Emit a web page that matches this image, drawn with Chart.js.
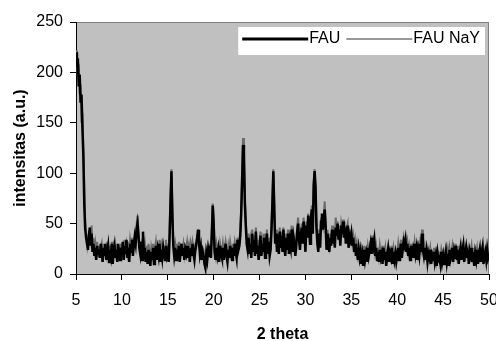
<!DOCTYPE html>
<html>
<head>
<meta charset="utf-8">
<title>FAU XRD</title>
<script src="https://cdn.jsdelivr.net/npm/chart.js@4.4.1/dist/chart.umd.min.js"></script>
<style>
  html, body { margin: 0; padding: 0; background: #ffffff; }
  #wrap { width: 496px; height: 341px; }
</style>
</head>
<body>
<div id="wrap"><canvas id="myChart" width="496" height="341"></canvas></div>
<script>
'use strict';

// <------------------ DATA ------------------>

// 2 theta grid: 5.0 .. 50.0, one reading every 0.1 degree
let thetaStart = 5;
let thetaStep = 0.1;

let seriesNames = ['FAU', 'FAU NaY'];

let fauCounts = [
  220, 205, 214, 186, 198, 170, 178, 145, 118, 70,
  45, 36, 30, 24, 38, 46, 28, 40, 22, 30,
  18, 26, 14, 28, 20, 24, 16, 30, 22, 12,
  26, 18, 30, 14, 22, 28, 12, 24, 18, 30,
  10, 22, 28, 16, 24, 12, 30, 20, 14, 26,
  18, 32, 14, 28, 20, 34, 16, 26, 12, 30,
  22, 34, 18, 28, 36, 30, 44, 50, 38, 26,
  20, 32, 14, 42, 18, 26, 12, 22, 10, 24,
  16, 8, 22, 14, 26, 10, 20, 28, 14, 24,
  18, 30, 12, 24, 16, 26, 20, 14, 28, 18,
  22, 12, 38, 72, 102, 58, 28, 18, 26, 14,
  24, 16, 28, 12, 22, 30, 18, 26, 14, 24,
  20, 28, 16, 24, 12, 26, 18, 30, 20, 14,
  24, 30, 36, 44, 32, 20, 26, 14, 22, 18,
  10, 6, 20, 14, 24, 18, 28, 16, 40, 68,
  50, 22, 14, 26, 18, 24, 12, 28, 20, 16,
  26, 14, 22, 30, 18, 12, 24, 16, 28, 20,
  14, 26, 18, 30, 22, 16, 34, 24, 28, 38,
  60, 92, 128, 118, 70, 48, 30, 24, 36, 20,
  30, 16, 40, 22, 34, 18, 42, 20, 28, 14,
  26, 38, 18, 30, 22, 36, 16, 28, 40, 20,
  32, 18, 24, 44, 70, 102, 66, 30, 40, 22,
  34, 20, 42, 26, 38, 22, 44, 28, 18, 36,
  24, 40, 20, 32, 26, 44, 22, 36, 30, 18,
  28, 42, 50, 34, 24, 38, 46, 30, 52, 40,
  22, 48, 36, 58, 44, 30, 56, 64, 40, 88,
  102, 86, 46, 30, 22, 40, 26, 52, 60, 44,
  56, 64, 48, 24, 40, 30, 22, 36, 28, 44,
  30, 42, 26, 46, 38, 50, 34, 44, 28, 48,
  40, 52, 36, 46, 30, 42, 48, 26, 38, 34,
  40, 28, 36, 22, 30, 18, 26, 14, 24, 16,
  22, 10, 18, 8, 24, 14, 20, 12, 26, 18,
  24, 30, 20, 36, 28, 34, 18, 26, 14, 22,
  12, 24, 16, 20, 10, 26, 14, 22, 8, 18,
  24, 12, 20, 16, 26, 10, 22, 14, 20, 12,
  18, 26, 14, 22, 30, 16, 24, 32, 28, 34,
  22, 30, 18, 26, 14, 28, 20, 24, 16, 30,
  20, 26, 14, 24, 18, 30, 22, 40, 24, 18,
  26, 14, 22, 12, 20, 16, 24, 10, 18, 14,
  22, 12, 18, 8, 20, 14, 16, 10, 22, 12,
  18, 10, 16, 22, 12, 20, 8, 24, 14, 18,
  26, 12, 22, 16, 28, 14, 24, 10, 20, 26,
  14, 22, 28, 12, 20, 26, 16, 24, 10, 22,
  18, 26, 12, 22, 8, 20, 14, 24, 10, 18,
  24, 12, 20, 26, 10, 18, 22, 14, 24, 16,
  20
];

let naYCounts = [
  212, 222, 196, 208, 178, 188, 150, 160, 124, 90,
  52, 40, 34, 28, 32, 40, 34, 48, 26, 36,
  22, 30, 20, 32, 18, 28, 22, 26, 30, 18,
  30, 22, 26, 20, 32, 24, 18, 28, 22, 32,
  16, 28, 24, 20, 30, 18, 26, 24, 20, 30,
  24, 28, 20, 34, 24, 30, 22, 32, 18, 34,
  28, 36, 24, 32, 40, 34, 48, 58, 44, 30,
  26, 30, 22, 36, 24, 30, 18, 28, 16, 30,
  22, 14, 26, 20, 30, 16, 26, 32, 20, 28,
  24, 34, 18, 28, 22, 30, 24, 20, 34, 22,
  26, 20, 44, 80, 104, 66, 34, 24, 30, 20,
  30, 22, 32, 18, 28, 26, 24, 30, 20, 28,
  26, 32, 22, 28, 18, 30, 24, 32, 26, 20,
  28, 26, 32, 38, 30, 24, 30, 20, 26, 24,
  16, 14, 24, 20, 28, 22, 30, 22, 44, 70,
  56, 28, 20, 30, 24, 28, 18, 30, 24, 22,
  30, 20, 26, 32, 24, 18, 28, 22, 32, 26,
  20, 30, 24, 32, 26, 22, 36, 28, 32, 44,
  66, 104, 135, 112, 76, 54, 36, 30, 40, 26,
  34, 24, 44, 28, 38, 26, 46, 26, 34, 22,
  32, 42, 24, 34, 28, 40, 24, 32, 44, 26,
  36, 24, 30, 48, 76, 104, 72, 36, 44, 28,
  38, 26, 46, 30, 42, 28, 46, 32, 24, 40,
  30, 44, 26, 36, 32, 48, 28, 40, 34, 24,
  34, 46, 56, 38, 30, 42, 50, 36, 56, 44,
  28, 52, 40, 60, 48, 36, 58, 68, 46, 90,
  104, 80, 52, 36, 28, 44, 32, 56, 50, 46,
  58, 72, 48, 30, 44, 34, 28, 40, 32, 48,
  36, 46, 32, 56, 42, 52, 38, 48, 34, 50,
  44, 54, 40, 48, 36, 46, 50, 32, 42, 38,
  42, 32, 38, 28, 34, 24, 30, 20, 28, 22,
  26, 16, 22, 14, 28, 20, 24, 18, 28, 22,
  28, 32, 24, 38, 30, 36, 22, 28, 20, 26,
  18, 28, 20, 24, 16, 28, 20, 26, 14, 22,
  28, 18, 24, 20, 28, 16, 26, 20, 24, 18,
  22, 30, 20, 26, 34, 22, 28, 36, 30, 34,
  26, 32, 22, 28, 20, 30, 24, 28, 22, 32,
  24, 28, 20, 28, 24, 32, 26, 44, 28, 22,
  28, 20, 26, 18, 24, 20, 26, 16, 22, 20,
  26, 18, 22, 14, 24, 18, 20, 16, 24, 18,
  22, 16, 20, 26, 18, 24, 14, 26, 20, 22,
  28, 18, 26, 22, 30, 20, 28, 16, 24, 28,
  20, 26, 30, 18, 24, 28, 22, 26, 16, 26,
  22, 28, 18, 26, 14, 24, 20, 26, 16, 22,
  26, 18, 24, 28, 16, 22, 26, 20, 26, 20,
  22
];

let xTickValues = [5, 10, 15, 20, 25, 30, 35, 40, 45, 50];
let yTickValues = [0, 50, 100, 150, 200, 250];


// <------------------ HELPERS ------------------>

const FONT = "'Liberation Sans', Arial, sans-serif";

function toPoints(counts) {
  let pts = [];
  for (let i = 0; i < counts.length; i++) {
    pts.push({ x: Math.round((thetaStart + i * thetaStep) * 10) / 10, y: counts[i] });
  }
  return pts;
}

function fixedTicks(values) {
  return function (scale) {
    scale.ticks = values.map(v => ({ value: v }));
  };
}

// grey plot area with its grey frame on top and right
let plotBackground = {
  id: 'plotBackground',
  beforeDraw(chart) {
    let { ctx, chartArea: a } = chart;
    ctx.save();
    ctx.fillStyle = '#c0c0c0';
    ctx.fillRect(a.left, a.top, a.right - a.left, a.bottom - a.top);
    ctx.strokeStyle = '#808080';
    ctx.lineWidth = 1;
    ctx.beginPath();
    ctx.moveTo(a.left, a.top + 0.5);
    ctx.lineTo(a.right - 0.5, a.top + 0.5);
    ctx.lineTo(a.right - 0.5, a.bottom);
    ctx.stroke();
    ctx.restore();
  }
};

// legend drawn inside the plot, top right, on a white box
let insideLegend = {
  id: 'insideLegend',
  afterDraw(chart) {
    let { ctx, chartArea: a } = chart;
    let lineLen = 66;
    ctx.save();
    ctx.font = '16px ' + FONT;
    let total = 4 + 5 - 6;
    chart.data.datasets.forEach(ds => {
      total += lineLen + 1 + ctx.measureText(ds.label).width + 6;
    });
    let boxRight = a.right - 4;
    let boxLeft = boxRight - total;
    let boxTop = a.top + 5;
    let boxH = 28;
    ctx.fillStyle = '#ffffff';
    ctx.fillRect(boxLeft, boxTop, boxRight - boxLeft, boxH);

    let x = boxLeft + 4;
    let y = boxTop + boxH / 2 - 2;
    ctx.textBaseline = 'middle';
    ctx.textAlign = 'left';
    chart.data.datasets.forEach(ds => {
      ctx.strokeStyle = ds.legendColor;
      ctx.lineWidth = ds.legendWidth;
      ctx.beginPath();
      ctx.moveTo(x, y);
      ctx.lineTo(x + lineLen, y);
      ctx.stroke();
      x += lineLen + 1;
      ctx.fillStyle = '#000000';
      ctx.fillText(ds.label, x, y);
      x += ctx.measureText(ds.label).width + 6;
    });
    ctx.restore();
  }
};


// <------------------ CHART ------------------>

let ctx = document.getElementById('myChart').getContext('2d');

let myChartObj = {
  type: 'line',
  data: {
    datasets: [{
      label: seriesNames[0],
      data: toPoints(fauCounts),
      borderColor: '#000000',
      borderWidth: 2.5,
      legendColor: '#000000',
      legendWidth: 3,
      pointRadius: 0
    },
    {
      label: seriesNames[1],
      data: toPoints(naYCounts),
      borderColor: '#6a6a6a',
      borderWidth: 2,
      legendColor: '#999999',
      legendWidth: 2,
      pointRadius: 0
    }]
  },
  options: {
    responsive: false,
    animation: false,
    devicePixelRatio: 1,
    layout: { padding: { top: 22, right: 7, left: 0, bottom: 0 } },
    plugins: {
      legend: { display: false },
      tooltip: { enabled: false }
    },
    elements: { line: { tension: 0 } },
    scales: {
      x: {
        type: 'linear',
        min: 5,
        max: 50,
        afterBuildTicks: fixedTicks(xTickValues),
        afterFit(scale) {
          scale.height = 67;
          scale.paddingLeft = 0;
          scale.paddingRight = 0;
        },
        border: { color: '#000000', width: 1 },
        grid: { drawOnChartArea: false, drawTicks: true, tickLength: 6, color: '#000000' },
        ticks: { color: '#000000', padding: 11, maxRotation: 0, font: { family: FONT, size: 16 } },
        title: {
          display: true,
          text: '2 theta',
          color: '#000000',
          padding: { top: 0, bottom: -3 },
          font: { family: FONT, size: 16, weight: 'bold' }
        }
      },
      y: {
        min: 0,
        max: 250,
        afterBuildTicks: fixedTicks(yTickValues),
        afterFit(scale) {
          scale.width = 76;
          scale.paddingTop = 0;
          scale.paddingBottom = 0;
        },
        border: { color: '#000000', width: 1 },
        grid: { drawOnChartArea: false, drawTicks: true, tickLength: 6, color: '#000000' },
        ticks: { color: '#000000', padding: 7, font: { family: FONT, size: 16 } },
        title: {
          display: true,
          text: 'intensitas (a.u.)',
          color: '#000000',
          padding: { top: 11, bottom: 0 },
          font: { family: FONT, size: 16, weight: 'bold' }
        }
      }
    }
  },
  plugins: [plotBackground, insideLegend]
};

const myChart = new Chart(ctx, myChartObj);
</script>
</body>
</html>
